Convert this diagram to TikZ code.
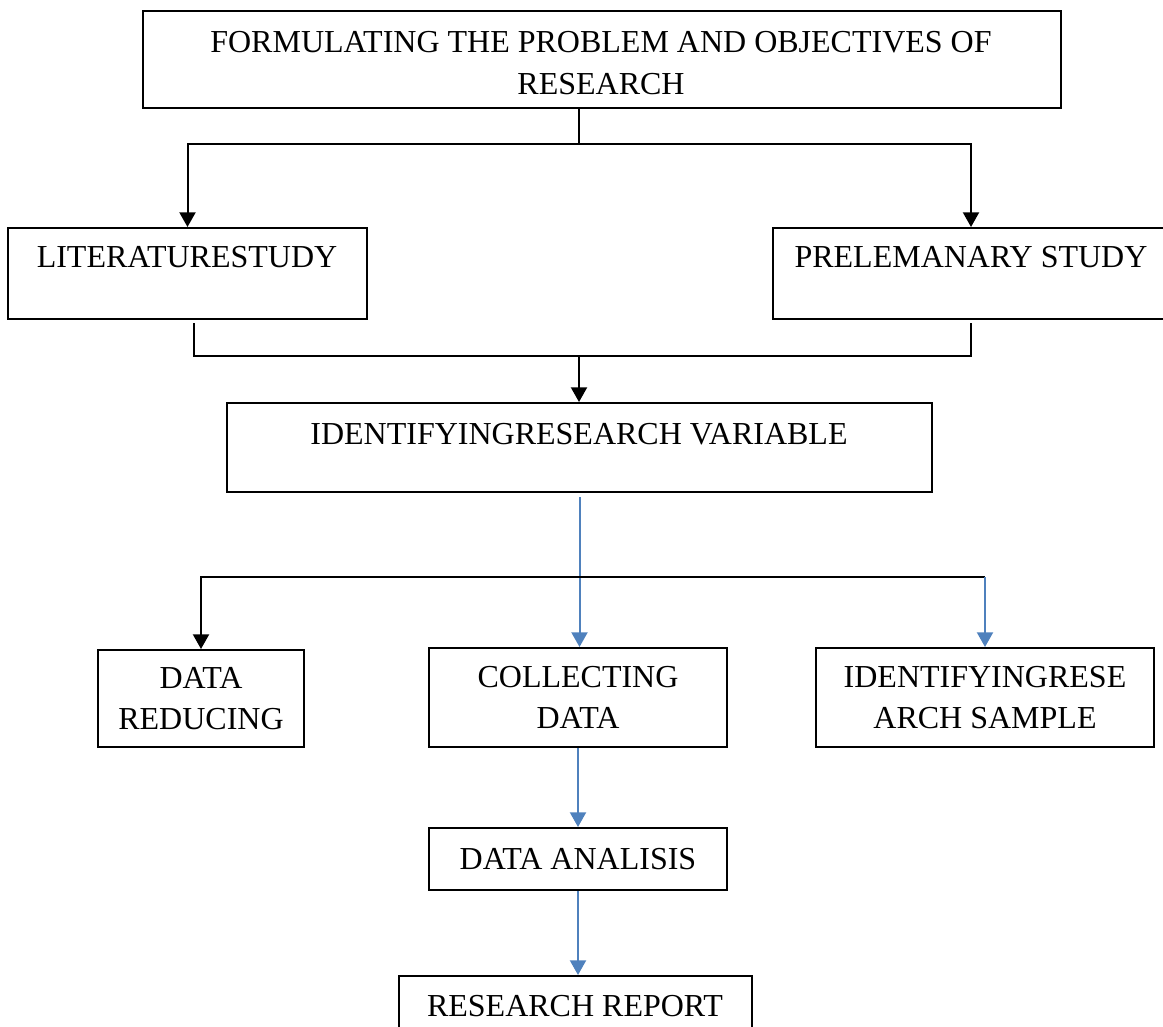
\documentclass[tikz,border=0pt]{standalone}
\usepackage{fontspec}
\setmainfont{Liberation Serif}
\usetikzlibrary{arrows.meta}
\definecolor{flowblue}{RGB}{79,129,189}
\begin{document}
\begin{tikzpicture}[x=0.75pt,y=-0.75pt,
  box/.style={draw, line width=1.5pt, inner sep=0pt, align=center,
              font=\fontsize{24}{31}\selectfont},
  lbl/.style={inner sep=0pt, anchor=base, font=\fontsize{24}{31}\selectfont},
  link/.style={line width=1.5pt},
  arrK/.style={link, -{Triangle[width=12pt,length=11pt]}},
  arrB/.style={link, flowblue, -{Triangle[width=12pt,length=11pt]}}]
\useasboundingbox (0,0) rectangle (1163,1027);
\clip (0,0) rectangle (1163,1027);

% boxes
\node[box, minimum width=688.5pt, minimum height=72.75pt] (top) at (602,59.5) {};
\node[box, minimum width=269.25pt, minimum height=68.25pt] (lit) at (187.5,273.5) {};
\node[box, minimum width=297pt, minimum height=68.25pt] (pre) at (971,273.5) {};
\node[box, minimum width=528.75pt, minimum height=66.75pt] (var) at (579.5,447.5) {};
\node[box, minimum width=154.5pt, minimum height=72.75pt] (red) at (201,698.5)
  {DATA\\REDUCING};
\node[box, minimum width=223.5pt, minimum height=74.25pt] (col) at (578,697.5)
  {COLLECTING\\DATA};
\node[box, minimum width=253.5pt, minimum height=74.25pt] (smp) at (985,697.5)
  {IDENTIFYINGRESE\\ARCH SAMPLE};
\node[box, minimum width=223.5pt, minimum height=46.5pt] (ana) at (578,859)
  {DATA ANALISIS};
\node[box, minimum width=264.75pt, minimum height=78pt] (rep) at (575.5,1028) {};

% box texts placed by hand
\node[lbl, anchor=center, align=center, font=\fontsize{24}{31.5}\selectfont] (topT) at (601,63)
  {FORMULATING THE PROBLEM AND OBJECTIVES OF\\RESEARCH};
\node[lbl] (litT) at (187,267) {LITERATURESTUDY};
\node[lbl] (preT) at (971,267) {PRELEMANARY STUDY};
\node[lbl] (varT) at (579,444) {IDENTIFYINGRESEARCH VARIABLE};
\node[lbl] (repT) at (575,1016) {RESEARCH REPORT};

% junction points
\coordinate (split) at (579,144);
\coordinate (join) at (579,356);
\coordinate (bus) at (579,577);

% problem -> literature / preliminary study
\draw[link] (top.south -| split) -- (split);
\draw[arrK] (split) -| (lit.north);
\draw[arrK] (split) -| (pre.north);

% both studies -> research variable
\draw[link] ([shift={(6.5,3)}]lit.south) |- (join) -| ([shift={(0,3)}]pre.south);
\draw[arrK] (join) -- (join |- var.north);

% research variable -> collecting data
\draw[arrB] ([shift={(0,4)}]var.south) -- (var.south |- col.north);

% branch to data reducing and research sample
\draw[arrK] (smp.north |- bus) -| (red.north);
\draw[arrB] (smp.north |- bus) -- (smp.north);

% collecting -> analysis -> report
\draw[arrB] (col.south) -- (ana.north);
\draw[arrB] (ana.south) -- (ana.south |- rep.north);
\end{tikzpicture}
\end{document}
